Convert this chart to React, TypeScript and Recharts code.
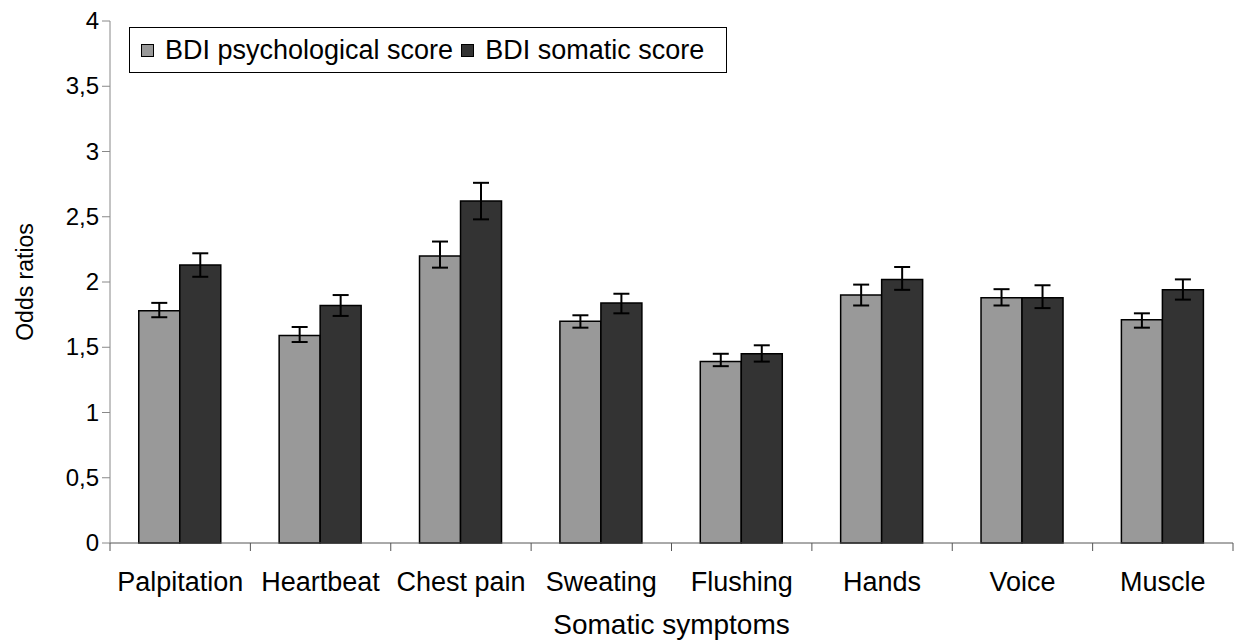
import React from "react"
import { Bar, BarChart, ErrorBar, Legend, XAxis, YAxis } from "recharts"

const categories = ["Palpitation", "Heartbeat", "Chest pain", "Sweating", "Flushing", "Hands", "Voice", "Muscle"]

// odds ratios, with lower / upper whisker ends
const psychological = [1.78, 1.59, 2.2, 1.7, 1.39, 1.9, 1.88, 1.71]
const psychologicalLow = [1.73, 1.54, 2.11, 1.65, 1.355, 1.82, 1.82, 1.65]
const psychologicalHigh = [1.84, 1.655, 2.31, 1.745, 1.45, 1.98, 1.945, 1.76]

const somatic = [2.13, 1.82, 2.62, 1.84, 1.45, 2.02, 1.88, 1.94]
const somaticLow = [2.04, 1.74, 2.48, 1.76, 1.39, 1.94, 1.8, 1.865]
const somaticHigh = [2.22, 1.9, 2.76, 1.91, 1.515, 2.115, 1.975, 2.02]

const yTicks = [0, 0.5, 1, 1.5, 2, 2.5, 3, 3.5, 4]

const seriesNames = ["BDI psychological score", "BDI somatic score"]
const seriesColors = ["#999999", "#333333"]

const data = categories.map((name, i) => ({
  name,
  psych: psychological[i],
  psychErr: [psychological[i] - psychologicalLow[i], psychologicalHigh[i] - psychological[i]],
  som: somatic[i],
  somErr: [somatic[i] - somaticLow[i], somaticHigh[i] - somatic[i]],
}))

const WIDTH = 1234
const HEIGHT = 642
const FONT = "'Liberation Sans', Arial, sans-serif"

function CategoryTick(props: any) {
  const { x, y, payload, index, visibleTicksCount } = props
  const half = payload.offset || (WIDTH - 111) / categories.length / 2
  const last = index === visibleTicksCount - 1
  return (
    <g>
      <line x1={x - half} x2={x - half} y1={y} y2={y + 8} stroke="#555" strokeWidth={1} />
      {last && <line x1={x + half} x2={x + half} y1={y} y2={y + 8} stroke="#555" strokeWidth={1} />}
      <text x={x} y={y + 48} textAnchor="middle" fontSize={27} fontFamily={FONT} fill="#000">
        {payload.value}
      </text>
    </g>
  )
}

function YTick(props: any) {
  const { x, y, payload } = props
  return (
    <text x={x} y={y + 8} textAnchor="end" fontSize={24} fontFamily={FONT} fill="#000">
      {String(payload.value).replace(".", ",")}
    </text>
  )
}

function LegendBox() {
  return (
    <div
      style={{
        border: "1px solid #000",
        background: "#fff",
        width: 596,
        height: 44,
        display: "flex",
        alignItems: "center",
        fontFamily: FONT,
        fontSize: 27,
        color: "#000",
        boxSizing: "content-box",
      }}
    >
      {seriesNames.map((n, i) => (
        <div key={n} style={{ display: "flex", alignItems: "center", marginLeft: i === 0 ? 11 : 8 }}>
          <span
            style={{
              display: "inline-block",
              width: 11,
              height: 11,
              border: "1px solid #000",
              background: seriesColors[i],
              marginRight: 11,
            }}
          />
          <span style={{ whiteSpace: "nowrap" }}>{n}</span>
        </div>
      ))}
    </div>
  )
}

export default function App() {
  return (
    <div style={{ width: WIDTH, height: HEIGHT, background: "#fff" }}>
      <style>{"body{margin:0}"}</style>
      <BarChart
        width={WIDTH}
        height={HEIGHT}
        data={data}
        margin={{ top: 21, right: 1, left: 0, bottom: 0 }}
        barCategoryGap="20.5%"
        barGap={0}
      >
        <XAxis
          dataKey="name"
          height={99}
          stroke="#555"
          tickLine={false}
          tickSize={0}
          tickMargin={0}
          tick={<CategoryTick />}
          interval={0}
          label={{
            value: "Somatic symptoms",
            position: "insideBottom",
            offset: 8,
            style: { fontSize: 28, fontFamily: FONT, fill: "#000" },
          }}
        />
        <YAxis
          width={110}
          domain={[0, 4]}
          ticks={yTicks}
          interval={0}
          stroke="#888"
          tickSize={8}
          tickMargin={3}
          tick={<YTick />}
          label={{
            value: "Odds ratios",
            angle: -90,
            position: "insideLeft",
            offset: 25,
            style: { fontSize: 23, fontFamily: FONT, fill: "#000", textAnchor: "middle" },
          }}
        />
        <Legend
          layout="horizontal"
          verticalAlign="middle"
          align="center"
          content={<LegendBox />}
          wrapperStyle={{ position: "absolute", left: 129, top: 27, width: "auto", height: "auto" }}
        />
        <Bar dataKey="psych" name={seriesNames[0]} fill={seriesColors[0]} stroke="#000" strokeWidth={1.5} isAnimationActive={false}>
          <ErrorBar dataKey="psychErr" width={8} stroke="#000" strokeWidth={2} isAnimationActive={false} />
        </Bar>
        <Bar dataKey="som" name={seriesNames[1]} fill={seriesColors[1]} stroke="#000" strokeWidth={1.5} isAnimationActive={false}>
          <ErrorBar dataKey="somErr" width={8} stroke="#000" strokeWidth={2} isAnimationActive={false} />
        </Bar>
      </BarChart>
    </div>
  )
}
